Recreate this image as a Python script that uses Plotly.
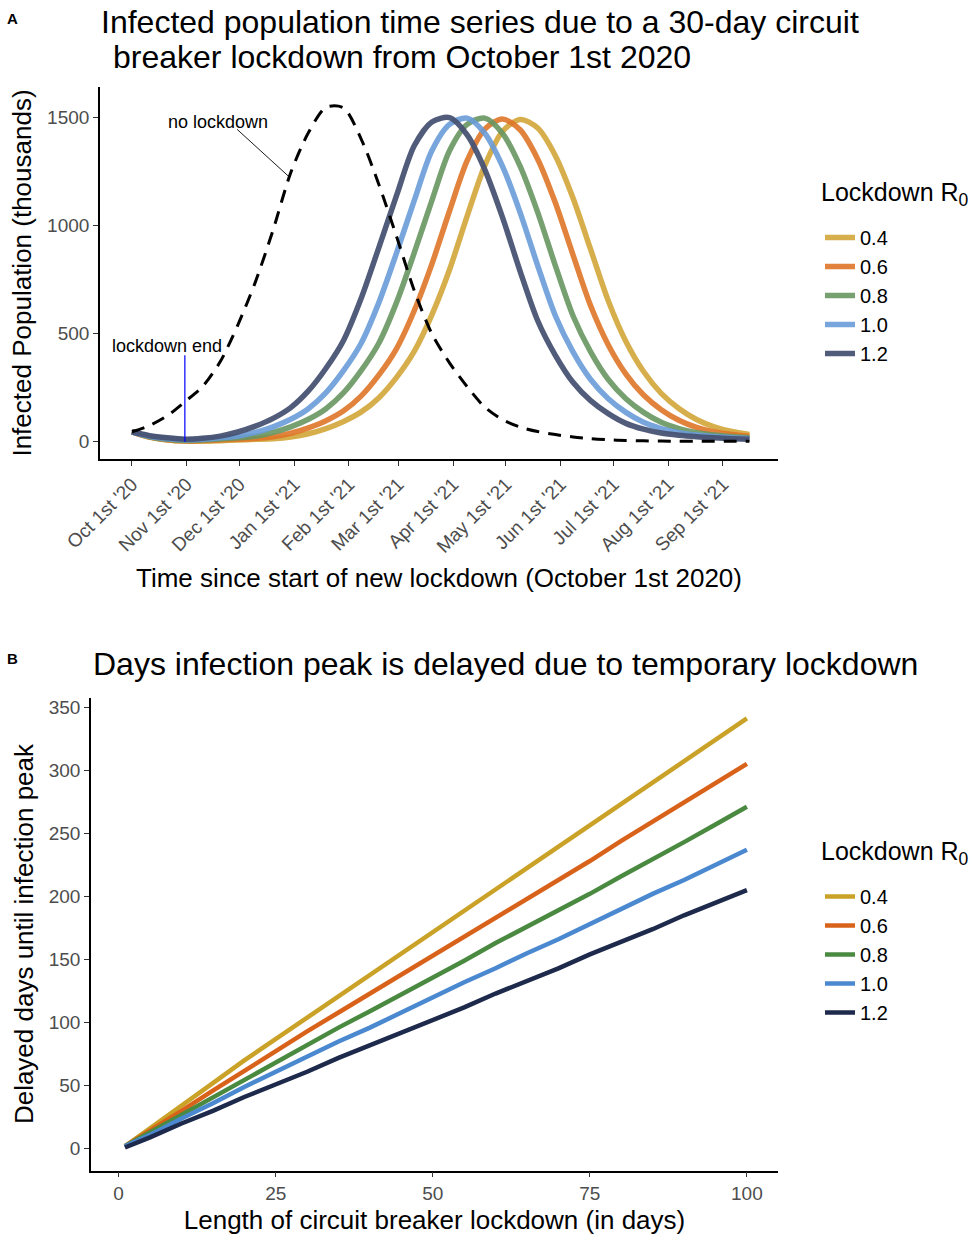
import pandas as pd
import plotly.graph_objects as go

# ---------------- Panel A data (thousands infected, every 10 days from Oct 1st 2020) ----------------
days = list(range(0, 351, 10))
no_lockdown = [46, 75, 120, 185, 255, 370, 540, 740, 980, 1245, 1430, 1548, 1545, 1400, 1190, 950,
               700, 500, 365, 255, 160, 102, 68, 47, 33, 22, 14, 9, 6, 4, 3, 2, 2, 2, 2, 2]
r0_04 = [46, 21, 8, 3, 3, 5, 8, 11, 14, 22, 37, 61, 94, 138, 204, 298, 418, 587, 796, 1044,
         1278, 1436, 1492, 1452, 1324, 1128, 890, 652, 464, 325, 224, 154, 103, 69, 47, 34]
r0_06 = [46, 22, 9, 4, 5, 8, 12, 15, 23, 39, 64, 97, 143, 212, 309, 431, 606, 822, 1068, 1301,
         1447, 1494, 1444, 1308, 1106, 865, 629, 448, 313, 216, 148, 99, 66, 45, 33, 25]
r0_08 = [46, 23, 11, 6, 8, 12, 18, 25, 43, 69, 104, 153, 227, 330, 457, 645, 874, 1116, 1347, 1469,
         1498, 1428, 1276, 1062, 815, 583, 416, 288, 199, 136, 90, 61, 42, 31, 24, 18]
r0_10 = [46, 25, 14, 9, 12, 18, 25, 43, 69, 104, 153, 227, 330, 457, 645, 874, 1116, 1347, 1469, 1498,
         1428, 1276, 1062, 815, 583, 416, 288, 199, 136, 90, 61, 42, 31, 24, 18, 14]
r0_12 = [46, 28, 18, 12, 16, 26, 45, 72, 108, 158, 235, 340, 470, 665, 900, 1140, 1370, 1480, 1500, 1420,
         1260, 1040, 790, 560, 400, 275, 190, 130, 85, 58, 40, 30, 23, 18, 14, 11]

r0_labels = ["0.4", "0.6", "0.8", "1.0", "1.2"]
start_date = "2020-10-01"
month_starts = ["2020-10-01", "2020-11-01", "2020-12-01", "2021-01-01", "2021-02-01", "2021-03-01",
                "2021-04-01", "2021-05-01", "2021-06-01", "2021-07-01", "2021-08-01", "2021-09-01"]
month_labels = ["Oct 1st '20", "Nov 1st '20", "Dec 1st '20", "Jan 1st '21", "Feb 1st '21", "Mar 1st '21",
                "Apr 1st '21", "May 1st '21", "Jun 1st '21", "Jul 1st '21", "Aug 1st '21", "Sep 1st '21"]
lockdown_days = 30

# ---------------- Panel B data (delay in days vs lockdown length) ----------------
lock_len = [1, 5, 10, 15, 20, 25, 30, 35, 40, 45, 50, 55, 60, 65, 70, 75, 80, 85, 90, 95, 100]
delay_04 = [2, 16, 34, 52, 70, 87, 104, 121, 138, 155, 171, 188, 205, 222, 240, 257, 274, 291, 308, 325, 341]
delay_06 = [2, 14, 30, 46, 62, 78, 93, 108, 123, 138, 152, 167, 183, 198, 213, 228, 244, 259, 274, 290, 305]
delay_08 = [2, 13, 27, 41, 55, 69, 82, 96, 109, 122, 136, 149, 163, 176, 189, 202, 216, 229, 243, 257, 271]
delay_10 = [2, 11, 24, 36, 49, 61, 73, 85, 96, 108, 120, 132, 143, 155, 166, 178, 190, 202, 213, 225, 237]
delay_12 = [1, 9, 20, 30, 41, 51, 61, 72, 82, 92, 102, 112, 123, 133, 143, 154, 164, 174, 185, 195, 205]

colors_a = ["rgba(210,165,55,0.9)", "rgba(222,118,40,0.9)", "rgba(104,150,96,0.9)",
            "rgba(104,155,216,0.9)", "rgba(72,82,115,0.95)"]
colors_b = ["#C9A227", "#D9621B", "#4A8A40", "#4A88D0", "#1E2A4C"]

FONT = "Liberation Sans, Arial, sans-serif"
W, H = 976, 1239


def px_x(p):
    return p / W


def px_y(p):
    return 1 - p / H


fig = go.Figure()

series_a = [r0_04, r0_06, r0_08, r0_10, r0_12]
for lab, vals, col in zip(r0_labels, series_a, colors_a):
    fig.add_trace(go.Scatter(x=days, y=vals, mode="lines", name=lab, legend="legend",
                             legendgroup="a" + lab,
                             line=dict(color=col, width=5.5, shape="spline", smoothing=0.8),
                             xaxis="x", yaxis="y"))
fig.add_trace(go.Scatter(x=days, y=no_lockdown, mode="lines", name="no lockdown", showlegend=False,
                         line=dict(color="black", width=3, dash="13px,9px", shape="spline", smoothing=0.8),
                         xaxis="x", yaxis="y"))

series_b = [delay_04, delay_06, delay_08, delay_10, delay_12]
for lab, vals, col in zip(r0_labels, series_b, colors_b):
    fig.add_trace(go.Scatter(x=lock_len, y=vals, mode="lines", name=lab, legend="legend2",
                             legendgroup="b" + lab,
                             line=dict(color=col, width=4.5),
                             xaxis="x2", yaxis="y2"))

start = pd.Timestamp(start_date)
tickvals_a = [(pd.Timestamp(d) - start).days for d in month_starts]

axis_common = dict(showgrid=False, zeroline=False, showline=True, linecolor="black", linewidth=1.6,
                   ticks="outside", ticklen=5, tickwidth=1.3, tickcolor="#333333", automargin=False,
                   tickfont=dict(family=FONT, size=19, color="#4D4D4D"))

legend_common = dict(xanchor="left", yanchor="top", font=dict(size=20, color="black"),
                     tracegroupgap=0, bgcolor="rgba(0,0,0,0)", itemwidth=30)

fig.update_layout(
    width=W, height=H, margin=dict(l=0, r=0, t=0, b=0, autoexpand=False),
    paper_bgcolor="white", plot_bgcolor="white",
    font=dict(family=FONT, color="black"),
    xaxis=dict(domain=[px_x(100), px_x(778)], anchor="y", range=[-18.1, 366.2],
               tickvals=tickvals_a, ticktext=month_labels, tickangle=-45,
               title=dict(text="Time since start of new lockdown (October 1st 2020)",
                          font=dict(size=26, color="black"), standoff=13),
               **axis_common),
    yaxis=dict(domain=[px_y(459), px_y(87)], anchor="x", range=[-80, 1642],
               tickvals=[0, 500, 1000, 1500],
               title=dict(text="Infected Population (thousands)", font=dict(size=26, color="black"),
                          standoff=8),
               **axis_common),
    xaxis2=dict(domain=[px_x(91), px_x(778)], anchor="y2", range=[-4.4, 104.95],
                tickvals=[0, 25, 50, 75, 100],
                title=dict(text="Length of circuit breaker lockdown (in days)",
                           font=dict(size=26, color="black"), standoff=8),
                **axis_common),
    yaxis2=dict(domain=[px_y(1170.6), px_y(697.5)], anchor="x2", range=[-17.3, 357.6],
                tickvals=[0, 50, 100, 150, 200, 250, 300, 350],
                title=dict(text="Delayed days until infection peak", font=dict(size=26, color="black"),
                           standoff=8),
                **axis_common),
    legend=dict(x=px_x(820), y=px_y(218), **legend_common),
    legend2=dict(x=px_x(820), y=px_y(877), **legend_common),
    showlegend=True,
)

annotations = [
    dict(text="<b>A</b>", x=px_x(5), y=px_y(18), xref="paper", yref="paper", showarrow=False,
         xanchor="left", yanchor="middle", font=dict(size=15, color="black")),
    dict(text="<b>B</b>", x=px_x(5), y=px_y(658), xref="paper", yref="paper", showarrow=False,
         xanchor="left", yanchor="middle", font=dict(size=15, color="black")),
    dict(text="Infected population time series due to a 30-day circuit",
         x=px_x(99), y=px_y(22), xref="paper", yref="paper", showarrow=False,
         xanchor="left", yanchor="middle", font=dict(size=32, color="black")),
    dict(text="breaker lockdown from October 1st 2020",
         x=px_x(111), y=px_y(57), xref="paper", yref="paper", showarrow=False,
         xanchor="left", yanchor="middle", font=dict(size=32, color="black")),
    dict(text="Days infection peak is delayed due to temporary lockdown",
         x=px_x(91), y=px_y(664), xref="paper", yref="paper", showarrow=False,
         xanchor="left", yanchor="middle", font=dict(size=32, color="black")),
    dict(text="Lockdown R<sub>0</sub>", x=px_x(819), y=px_y(194), xref="paper", yref="paper",
         showarrow=False, xanchor="left", yanchor="middle", font=dict(size=25, color="black")),
    dict(text="Lockdown R<sub>0</sub>", x=px_x(819), y=px_y(853), xref="paper", yref="paper",
         showarrow=False, xanchor="left", yanchor="middle", font=dict(size=25, color="black")),
    dict(text="lockdown end", x=20, y=445, xref="x", yref="y", showarrow=False,
         font=dict(size=18, color="black")),
    dict(text="no lockdown", x=49, y=1481, xref="x", yref="y", showarrow=False,
         font=dict(size=18, color="black")),
]
fig.update_layout(annotations=annotations)

fig.add_shape(type="line", x0=lockdown_days, x1=lockdown_days, y0=0, y1=400, xref="x", yref="y",
              line=dict(color="blue", width=1.2))
fig.add_shape(type="line", x0=59.6, x1=89, y0=1446, y1=1227, xref="x", yref="y",
              line=dict(color="black", width=0.9))

fig.write_html("out.html", config={"displayModeBar": False},
               post_script="document.body.style.margin='0px';")
